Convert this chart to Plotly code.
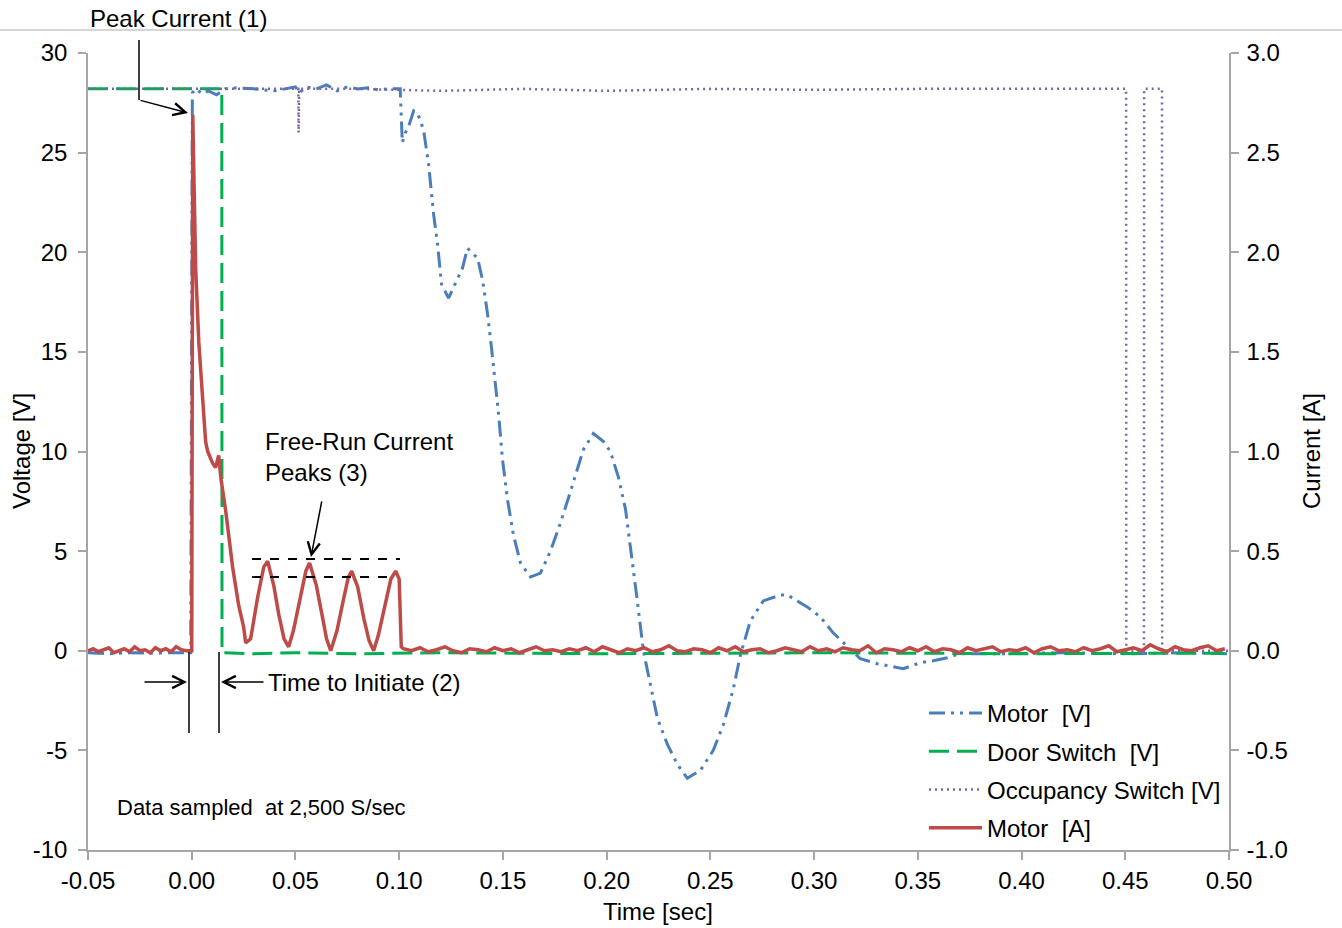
import numpy as np
import plotly.graph_objects as go

# ---------------- data ----------------
# Motor voltage [V]
motor_v_t = [-0.05, -0.04, -0.03, -0.02, -0.01, -0.0005, 0.0003, 0.002, 0.005, 0.008,
             0.012, 0.016, 0.02, 0.03, 0.04, 0.05, 0.052, 0.055, 0.06, 0.065,
             0.07, 0.075, 0.08, 0.085, 0.09, 0.095, 0.1005, 0.101, 0.1015, 0.103,
             0.1045, 0.107, 0.1085, 0.110, 0.1118, 0.1142, 0.1166, 0.1185, 0.1204, 0.1238,
             0.1281, 0.1305, 0.1329, 0.1378, 0.1402, 0.1426, 0.1445, 0.1464, 0.1479, 0.1498,
             0.1522, 0.1551, 0.1585, 0.1633, 0.1681, 0.1729, 0.1777, 0.1826, 0.1864, 0.1888,
             0.1936, 0.1985, 0.2018, 0.2057, 0.2091, 0.2115, 0.2148, 0.2177, 0.2211, 0.2245,
             0.2293, 0.2341, 0.2389, 0.2452, 0.2514, 0.2563, 0.2611, 0.2645, 0.2693, 0.2755,
             0.2837, 0.2871, 0.2967, 0.3030, 0.3092, 0.3160, 0.3223, 0.3304, 0.3382, 0.343,
             0.3512, 0.3574, 0.3642, 0.370, 0.39, 0.42, 0.45, 0.48, 0.50]
motor_v = [-0.1, -0.15, -0.1, -0.12, -0.1, -0.1, 28.0, 28.2, 27.95, 28.1,
           27.9, 28.2, 28.25, 28.2, 28.1, 28.3, 28.0, 28.3, 28.2, 28.4,
           28.1, 28.3, 28.2, 28.25, 28.15, 28.2, 28.2, 27.0, 25.5, 26.0,
           26.3, 27.1, 27.0, 26.7, 26.1, 24.4, 21.9, 20.4, 18.4, 17.7,
           18.7, 19.2, 20.2, 19.7, 18.6, 16.9, 15.2, 13.5, 11.9, 9.6,
           7.6, 5.8, 4.4, 3.7, 3.9, 5.0, 6.4, 8.0, 9.3, 10.1,
           10.9, 10.5, 10.0, 8.7, 7.1, 5.2, 2.5, 0.0, -1.7, -3.4,
           -4.7, -5.7, -6.4, -6.0, -5.0, -3.7, -1.9, -0.2, 1.5, 2.5,
           2.8, 2.8, 2.2, 1.7, 0.9, 0.2, -0.4, -0.65, -0.8, -0.9,
           -0.6, -0.5, -0.35, -0.15, -0.15, -0.1, -0.15, -0.1, -0.15]

# Door switch [V]
door_t = [-0.05, 0.0145, 0.0146, 0.03, 0.05, 0.08, 0.12, 0.2, 0.3, 0.4, 0.5]
door_v = [28.2, 28.2, -0.1, -0.15, -0.1, -0.15, -0.1, -0.15, -0.1, -0.15, -0.12]

# Occupancy switch [V]
occ_t = [-0.05, 0.02, 0.0514, 0.0515, 0.0518, 0.08, 0.12, 0.16, 0.2, 0.25,
         0.3, 0.35, 0.4, 0.4504, 0.4505, 0.4590, 0.4591, 0.4677, 0.4678, 0.50]
occ_v = [28.2, 28.2, 28.2, 26.0, 28.2, 28.2, 28.1, 28.2, 28.1, 28.2,
         28.15, 28.2, 28.2, 28.2, 0.0, 0.0, 28.2, 28.2, 0.0, 0.0]

# Motor current [A]
cur_pre = [0.0, 0.01, -0.005, 0.005, 0.015, -0.01, 0.0, 0.01, -0.005, 0.02,
           0.0, 0.005, -0.01, 0.015, 0.0, 0.01, -0.005, 0.02, 0.005, 0.0]
cur_event_t = [0.0, 0.0005, 0.0019, 0.0034, 0.0053, 0.0067, 0.0077, 0.0101, 0.0115, 0.013,
               0.014, 0.0164, 0.0197, 0.0226, 0.025, 0.026, 0.0284, 0.0318, 0.0347, 0.0366,
               0.0395, 0.042, 0.0445, 0.0467, 0.049, 0.052, 0.055, 0.0568, 0.060, 0.063,
               0.065, 0.067, 0.070, 0.073, 0.0755, 0.0771, 0.080, 0.083, 0.0855, 0.0877,
               0.090, 0.093, 0.096, 0.0983, 0.1000, 0.1010]
cur_event = [0.0, 2.69, 1.92, 1.55, 1.26, 1.05, 1.0, 0.94, 0.92, 0.98,
             0.87, 0.70, 0.42, 0.23, 0.12, 0.04, 0.06, 0.27, 0.42, 0.45,
             0.33, 0.18, 0.06, 0.02, 0.10, 0.26, 0.40, 0.44, 0.33, 0.17,
             0.06, 0.0, 0.10, 0.25, 0.37, 0.40, 0.32, 0.16, 0.05, 0.0,
             0.08, 0.22, 0.36, 0.40, 0.36, 0.02]
cur_tail = [0.01, 0.0, 0.015, -0.005, 0.005, 0.02, 0.0, -0.01, 0.01, 0.005,
            -0.005, 0.015, 0.0, 0.01, -0.01, 0.005, 0.02, 0.0, 0.005, -0.005,
            0.01, 0.0, 0.015, -0.005, 0.02, 0.005, -0.01, 0.01, 0.0, 0.015,
            -0.005, 0.005, 0.025, 0.0, -0.005, 0.01, 0.005, -0.01, 0.015, 0.0,
            0.02, -0.005, 0.005, 0.01, -0.01, 0.0, 0.015, 0.005, -0.005, 0.02,
            0.0, 0.01, -0.005, 0.015, 0.005, 0.0, 0.025, -0.01, 0.01, 0.005,
            -0.005, 0.015, 0.0, 0.02, -0.005, 0.01, 0.005, -0.01, 0.015, 0.0,
            0.01, 0.02, -0.005, 0.005, 0.0, 0.015, -0.01, 0.01, 0.02, 0.0,
            0.005, -0.005, 0.015, 0.0, 0.01, 0.025, -0.005, 0.005, 0.015, 0.0,
            0.03, 0.01, -0.005, 0.02, 0.005, 0.0, 0.015, 0.025, 0.0, 0.01]
cur_pre_t = [-0.05 + i * 0.0025 for i in range(len(cur_pre))]
cur_tail_t = [0.102 + i * 0.004 for i in range(len(cur_tail))]
cur_t = cur_pre_t + cur_event_t + cur_tail_t
cur_a = cur_pre + cur_event + cur_tail

# ticks
x_ticks = [-0.05, 0.0, 0.05, 0.10, 0.15, 0.20, 0.25, 0.30, 0.35, 0.40, 0.45, 0.50]
x_labels = ["-0.05", "0.00", "0.05", "0.10", "0.15", "0.20", "0.25", "0.30", "0.35", "0.40", "0.45", "0.50"]
yl_ticks = [-10, -5, 0, 5, 10, 15, 20, 25, 30]
yl_labels = ["-10", "-5", "0", "5", "10", "15", "20", "25", "30"]
yr_ticks = [-1.0, -0.5, 0.0, 0.5, 1.0, 1.5, 2.0, 2.5, 3.0]
yr_labels = ["-1.0", "-0.5", "0.0", "0.5", "1.0", "1.5", "2.0", "2.5", "3.0"]

# ---------------- layout geometry ----------------
W, H = 1342, 928
L, R, T, B = 88, 1229, 53, 850
PW, PH = R - L, B - T


def px(x):
    return (x - L) / PW


def py(y):
    return (B - y) / PH


FONT = "Liberation Sans, Arial, sans-serif"
FS = 24
BLUE = "#4a7ebb"
GREEN = "#00b050"
PURPLE = "#8064a2"
RED = "#be4b48"
AXIS = "#a6a6a6"

fig = go.Figure()
fig.add_trace(go.Scatter(x=motor_v_t, y=motor_v, name="Motor  [V]", mode="lines",
                         legendgroup="a",
                         line=dict(color=BLUE, width=3, dash="16px,6px,3px,6px,3px,6px")))
fig.add_trace(go.Scatter(x=door_t, y=door_v, name="Door Switch  [V]", mode="lines",
                         legendgroup="b",
                         line=dict(color=GREEN, width=3, dash="20px,8px")))
fig.add_trace(go.Scatter(x=occ_t, y=occ_v, name="Occupancy Switch [V]", mode="lines",
                         legendgroup="c",
                         line=dict(color=PURPLE, width=2.5, dash="2px,4px")))
fig.add_trace(go.Scatter(x=cur_t, y=cur_a, name="Motor  [A]", mode="lines", yaxis="y2",
                         legendgroup="d",
                         line=dict(color=RED, width=3.5)))

shapes = []
annotations = []


def seg(x0, y0, x1, y1, color="black", width=1.5, dash="solid"):
    shapes.append(dict(type="line", xref="paper", yref="paper",
                       x0=px(x0), y0=py(y0), x1=px(x1), y1=py(y1),
                       line=dict(color=color, width=width, dash=dash)))


def arrow(hx, hy, tx, ty):
    annotations.append(dict(xref="paper", yref="paper", x=px(hx), y=py(hy),
                            ax=tx - hx, ay=ty - hy, text="", showarrow=True,
                            arrowhead=5, arrowsize=1.6, arrowwidth=1.5, arrowcolor="black",
                            standoff=0))


def text(x, y, s, size=FS, xanchor="left"):
    annotations.append(dict(xref="paper", yref="paper", x=px(x), y=py(y), text=s,
                            showarrow=False, xanchor=xanchor, yanchor="middle",
                            font=dict(family=FONT, size=size, color="black")))


# top frame line of chart area
seg(0, 30, W, 30, color="#c8c8c8", width=1.5)

# Peak current
text(88, 18, "Peak Current (1)")
seg(139, 40, 139, 100)
arrow(188, 113, 139, 100)

# Time to initiate
seg(189, 652, 189, 733)
seg(219, 652, 219, 733)
arrow(187, 682, 143, 682)
arrow(221, 682, 265, 682)
text(266, 682, "Time to Initiate (2)")

# Free-run peaks
annotations.append(dict(xref="paper", yref="paper", x=px(263), y=py(457),
                        text="Free-Run Current<br>Peaks (3)", showarrow=False,
                        xanchor="left", yanchor="middle", align="left",
                        font=dict(family=FONT, size=FS, color="black")))
seg(252, 559, 400, 559, width=1.8, dash="dash")
seg(252, 577, 396, 577, width=1.8, dash="dash")
arrow(311, 557, 322, 500)

# sample rate note
text(115, 807, "Data sampled  at 2,500 S/sec", size=22)

# axis titles
annotations.append(dict(xref="paper", yref="paper", x=px(21), y=py(451), text="Voltage [V]",
                        textangle=-90, showarrow=False, xanchor="center", yanchor="middle",
                        font=dict(family=FONT, size=FS, color="black")))
annotations.append(dict(xref="paper", yref="paper", x=px(1311), y=py(451), text="Current [A]",
                        textangle=-90, showarrow=False, xanchor="center", yanchor="middle",
                        font=dict(family=FONT, size=FS, color="black")))
annotations.append(dict(xref="paper", yref="paper", x=px(658), y=py(911), text="Time [sec]",
                        showarrow=False, xanchor="center", yanchor="middle",
                        font=dict(family=FONT, size=FS, color="black")))

axis_common = dict(showgrid=False, zeroline=False, showline=True, linecolor=AXIS, linewidth=1.5,
                   ticks="outside", ticklen=8, tickcolor=AXIS, tickwidth=1.5,
                   tickfont=dict(family=FONT, size=FS, color="black"))

fig.update_layout(
    width=W, height=H,
    margin=dict(l=L, r=W - R, t=T, b=H - B, pad=0),
    paper_bgcolor="white", plot_bgcolor="white",
    font=dict(family=FONT, size=FS, color="black"),
    xaxis=dict(range=[-0.05, 0.50], tickmode="array", tickvals=x_ticks, ticktext=x_labels,
               **axis_common),
    yaxis=dict(range=[-10, 30], tickmode="array", tickvals=yl_ticks, ticktext=yl_labels,
               ticklabelstandoff=6, **axis_common),
    yaxis2=dict(range=[-1, 3], overlaying="y", side="right", tickmode="array",
                tickvals=yr_ticks, ticktext=yr_labels, ticklabelstandoff=3, **axis_common),
    showlegend=True,
    legend=dict(x=px(924), y=py(691), xanchor="left", yanchor="top",
                bgcolor="rgba(0,0,0,0)", borderwidth=0, itemwidth=53,
                traceorder="grouped", tracegroupgap=4,
                font=dict(family=FONT, size=FS, color="black")),
    shapes=shapes,
    annotations=annotations,
)

fig.write_html("out.html", config={"displayModeBar": False},
               post_script="document.body.style.margin='0px';document.body.style.padding='0px';")
